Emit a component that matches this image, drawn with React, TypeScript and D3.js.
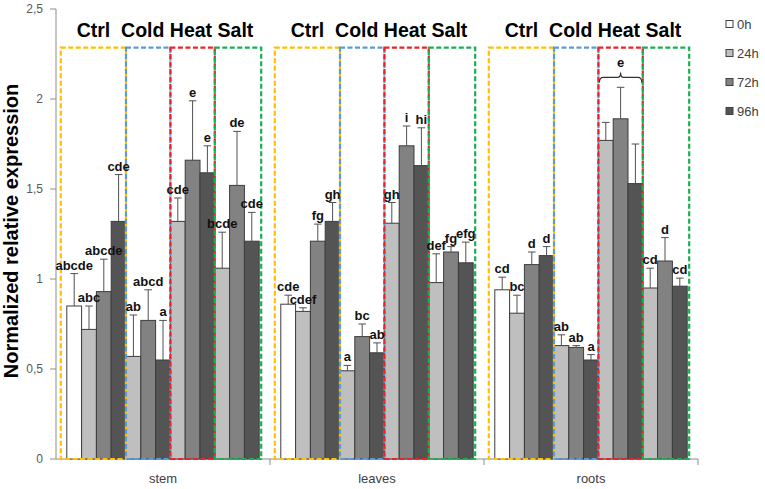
import * as d3 from "d3";

const categories = ["stem", "leaves", "roots"];
const treatments = ["Ctrl", "Cold", "Heat", "Salt"];
const timepoints = ["0h", "24h", "72h", "96h"];
// bar order inside each organ: Ctrl 0/24/72/96h, then Cold, Heat, Salt at 24/72/96h
const barTreatment = ["Ctrl", "Ctrl", "Ctrl", "Ctrl", "Cold", "Cold", "Cold", "Heat", "Heat", "Heat", "Salt", "Salt", "Salt"];
const barTime = ["0h", "24h", "72h", "96h", "24h", "72h", "96h", "24h", "72h", "96h", "24h", "72h", "96h"];

const stemMean = [0.85, 0.72, 0.93, 1.32, 0.57, 0.77, 0.55, 1.32, 1.66, 1.59, 1.06, 1.52, 1.21];
const stemErr = [0.18, 0.13, 0.18, 0.26, 0.23, 0.17, 0.22, 0.13, 0.33, 0.15, 0.2, 0.3, 0.16];
const stemLetters = ["abcde", "abc", "abcde", "cde", "ab", "abcd", "a", "cde", "e", "e", "bcde", "de", "cde"];

const leavesMean = [0.86, 0.82, 1.21, 1.32, 0.49, 0.68, 0.59, 1.31, 1.74, 1.63, 0.98, 1.15, 1.09];
const leavesErr = [0.05, 0.02, 0.095, 0.105, 0.03, 0.07, 0.055, 0.115, 0.11, 0.21, 0.16, 0.03, 0.115];
const leavesLetters = ["cde", "cdef", "fg", "gh", "a", "bc", "ab", "gh", "i", "hi", "def", "fg", "efg"];

const rootsMean = [0.94, 0.81, 1.08, 1.13, 0.63, 0.62, 0.55, 1.77, 1.89, 1.53, 0.95, 1.1, 0.96];
const rootsErr = [0.07, 0.1, 0.07, 0.05, 0.06, 0.01, 0.03, 0.1, 0.175, 0.22, 0.11, 0.13, 0.045];
const rootsLetters = ["cd", "bc", "d", "d", "ab", "ab", "a", "", "", "", "cd", "d", "cd"];

// roots / Heat share one letter, drawn with a brace
const rootsHeatLetter = "e";
const braceLevel = 2.12;
const boxTop = 2.285;

const yTicks = [0, 0.5, 1, 1.5, 2, 2.5];
const tickLabels = ["0", "0,5", "1", "1,5", "2", "2,5"];

const means = [stemMean, leavesMean, rootsMean];
const errs = [stemErr, leavesErr, rootsErr];
const letters = [stemLetters, leavesLetters, rootsLetters];

const timeFill: Record<string, string> = { "0h": "#ffffff", "24h": "#bfbfbf", "72h": "#828282", "96h": "#545454" };
const boxColor: Record<string, string> = { Ctrl: "#FFC000", Cold: "#5B9BD5", Heat: "#E8262A", Salt: "#1AAF54" };

const W = 765;
const H = 489;
const left = 56;
const right = 698;
const font = "'Liberation Sans', Arial, sans-serif";

export default function App() {
  const y = d3.scaleLinear().domain([0, 2.5]).range([459, 9]);
  const x0 = d3.scaleBand().domain(categories).range([left, right]);
  const x1 = d3
    .scaleBand()
    .domain(d3.range(barTime.length).map(String))
    .range([10.8, x0.bandwidth() - 10.8]);
  const bw = x1.bandwidth();
  const barX = (c: string, i: number) => (x0(c) ?? 0) + (x1(String(i)) ?? 0);

  return (
    <svg width={W} height={H} style={{ position: "absolute", left: 0, top: 0, background: "#fff" }} fontFamily={font}>
      {/* y axis */}
      <line x1={left} x2={left} y1={y(2.5)} y2={y(0)} stroke="#8c8c8c" />
      {yTicks.map((t, i) => (
        <g key={t}>
          <line x1={left - 6} x2={left} y1={y(t)} y2={y(t)} stroke="#8c8c8c" />
          <text x={43} y={y(t)} dy="0.35em" textAnchor="end" fontSize={12} fill="#595959">
            {tickLabels[i]}
          </text>
        </g>
      ))}
      <text
        transform={`translate(17.5, 231) rotate(-90)`}
        textAnchor="middle"
        fontSize={20}
        fontWeight="bold"
        fill="#000"
      >
        Normalized relative expression
      </text>

      {/* x axis */}
      <line x1={left} x2={right} y1={y(0)} y2={y(0)} stroke="#8c8c8c" />
      {categories.map((c) => (
        <g key={c}>
          <line x1={(x0(c) ?? 0) + x0.bandwidth()} x2={(x0(c) ?? 0) + x0.bandwidth()} y1={y(0)} y2={y(0) + 6} stroke="#8c8c8c" />
          <text x={(x0(c) ?? 0) + x0.bandwidth() / 2} y={483} textAnchor="middle" fontSize={13} fill="#404040">
            {c}
          </text>
        </g>
      ))}

      {categories.map((c, ci) => (
        <g key={c}>
          {barTime.map((t, i) => {
            const m = means[ci][i];
            const e = errs[ci][i];
            const bx = barX(c, i);
            const cx = bx + bw / 2;
            return (
              <g key={i}>
                <rect x={bx} y={y(m)} width={bw} height={y(0) - y(m)} fill={timeFill[t]} stroke="#3c3c3c" strokeWidth={1} />
                <line x1={cx} x2={cx} y1={y(m)} y2={y(m + e)} stroke="#505050" />
                <line x1={cx - 3.8} x2={cx + 3.8} y1={y(m + e)} y2={y(m + e)} stroke="#505050" />
              </g>
            );
          })}

          {/* treatment boxes */}
          {treatments.map((tr) => {
            const idx = barTreatment.map((b, i) => (b === tr ? i : -1)).filter((i) => i >= 0);
            const xs = barX(c, idx[0]) - (tr === "Ctrl" ? 6 : 0);
            const xe = barX(c, idx[idx.length - 1]) + bw + (tr === "Salt" ? 2 : 0);
            return (
              <rect
                key={tr}
                x={xs}
                y={y(boxTop)}
                width={xe - xs}
                height={y(0) - y(boxTop)}
                fill="none"
                stroke={boxColor[tr]}
                strokeWidth={2.2}
                strokeDasharray="5 2.5"
              />
            );
          })}

          {/* significance letters on top of everything */}
          {barTime.map((t, i) => {
            const lab = letters[ci][i];
            if (!lab) return null;
            const top = means[ci][i] + errs[ci][i];
            return (
              <text
                key={`l${i}`}
                x={barX(c, i) + bw / 2}
                y={y(top) - 4}
                textAnchor="middle"
                fontSize={13}
                fontWeight="bold"
                fill="#111"
              >
                {lab}
              </text>
            );
          })}

          <text
            x={(x0(c) ?? 0) + x0.bandwidth() / 2 + 2}
            y={37}
            textAnchor="middle"
            fontSize={19.5}
            fontWeight="bold"
            fill="#000"
            style={{ whiteSpace: "pre" }}
          >
            {"Ctrl  Cold Heat Salt"}
          </text>
        </g>
      ))}

      {/* brace over roots heat bars */}
      {(() => {
        const idx = barTreatment.map((b, i) => (b === "Heat" ? i : -1)).filter((i) => i >= 0);
        const xa = barX("roots", idx[0]) + 1;
        const xb = barX("roots", idx[idx.length - 1]) + bw - 1;
        const yb = y(braceLevel);
        const mid = (xa + xb) / 2;
        const p = d3.path();
        p.moveTo(xa, yb + 5);
        p.quadraticCurveTo(xa, yb, xa + 4, yb);
        p.lineTo(mid - 3, yb);
        p.quadraticCurveTo(mid, yb, mid, yb - 5);
        p.quadraticCurveTo(mid, yb, mid + 3, yb);
        p.lineTo(xb - 4, yb);
        p.quadraticCurveTo(xb, yb, xb, yb + 5);
        return (
          <g>
            <path d={p.toString()} fill="none" stroke="#333" strokeWidth={1.2} />
            <text x={mid} y={yb - 10} textAnchor="middle" fontSize={13} fontWeight="bold" fill="#111">
              {rootsHeatLetter}
            </text>
          </g>
        );
      })()}

      {/* legend */}
      {timepoints.map((t, i) => (
        <g key={t} transform={`translate(726, ${24 + i * 29})`}>
          <rect x={0} y={-3.5} width={7} height={7} fill={timeFill[t]} stroke="#404040" />
          <text x={11} y={0} dy="0.35em" fontSize={13} fill="#404040">
            {t}
          </text>
        </g>
      ))}
    </svg>
  );
}
